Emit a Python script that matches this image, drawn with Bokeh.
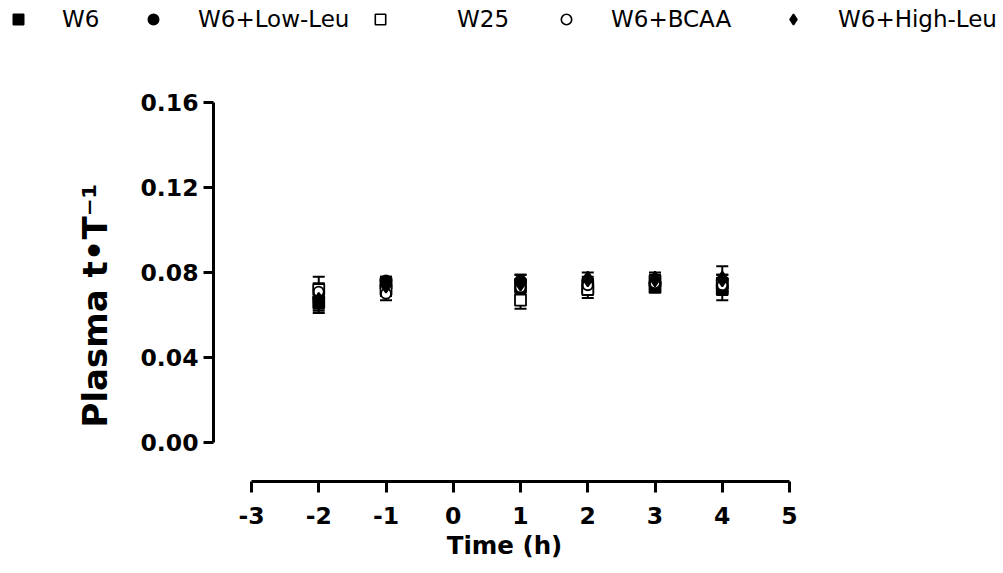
from bokeh.plotting import figure
from bokeh.models import (ColumnDataSource, Whisker, TeeHead, Range1d, FixedTicker,
                          Legend, LegendItem, Title, PrintfTickFormatter)
from bokeh.embed import file_html
from bokeh.resources import INLINE

# ---- data ----
times = [-2, -1, 1, 2, 3, 4]
series_names = ["W6", "W6+Low-Leu", "W25", "W6+BCAA", "W6+High-Leu"]
w6 = [0.066, 0.075, 0.074, 0.073, 0.073, 0.072]
w6_err = [0.005, 0.003, 0.003, 0.003, 0.002, 0.005]
w6_low_leu = [0.068, 0.076, 0.076, 0.076, 0.075, 0.076]
w6_low_leu_err = [0.005, 0.002, 0.003, 0.002, 0.003, 0.003]
w25 = [0.072, 0.072, 0.067, 0.072, 0.076, 0.075]
w25_err = [0.006, 0.003, 0.004, 0.004, 0.003, 0.004]
w6_bcaa = [0.071, 0.070, 0.073, 0.074, 0.075, 0.074]
w6_bcaa_err = [0.004, 0.003, 0.003, 0.003, 0.003, 0.003]
w6_high_leu = [0.067, 0.074, 0.075, 0.077, 0.077, 0.077]
w6_high_leu_err = [0.005, 0.003, 0.004, 0.003, 0.003, 0.006]

x_ticks = [-3, -2, -1, 0, 1, 2, 3, 4, 5]
x_tick_labels = ["-3", "-2", "-1", "0", "1", "2", "3", "4", "5"]
y_ticks = [0.00, 0.04, 0.08, 0.12, 0.16]

FONT = "DejaVu Sans"
LEG_H = 40

p = figure(width=1003, height=573 - LEG_H, output_backend="svg", toolbar_location=None,
           title=None,
           x_range=Range1d(-3.565, 5.089), y_range=Range1d(-0.01835, 0.1633),
           min_border_left=213, min_border_right=208, min_border_top=95 - LEG_H,
           min_border_bottom=92)
p.outline_line_color = None
p.xgrid.visible = False
p.ygrid.visible = False

for ax in (p.xaxis[0], p.yaxis[0]):
    ax.axis_line_width = 3
    ax.axis_line_color = "black"
    ax.major_tick_line_width = 3
    ax.major_tick_line_color = "black"
    ax.major_tick_in = 0
    ax.minor_tick_line_color = None
    ax.major_label_text_font = FONT
    ax.major_label_text_font_style = "bold"
    ax.major_label_text_font_size = "23.5px"
    ax.major_label_text_color = "black"

p.xaxis.bounds = (-3, 5)
p.xaxis.ticker = FixedTicker(ticks=x_ticks)
p.xaxis.major_label_overrides = {t: s for t, s in zip(x_ticks, x_tick_labels)}
p.xaxis.major_tick_out = 11
p.xaxis.major_label_standoff = 14
p.xaxis.axis_label = "Time (h)"
p.xaxis.axis_label_text_font = FONT
p.xaxis.axis_label_text_font_style = "bold"
p.xaxis.axis_label_text_font_size = "24.5px"
p.xaxis.axis_label_text_color = "black"
p.xaxis.axis_label_standoff = 4

p.yaxis.bounds = (0, 0.16)
p.yaxis.ticker = FixedTicker(ticks=y_ticks)
p.yaxis.formatter = PrintfTickFormatter(format="%.2f")
p.yaxis.major_tick_out = 10
p.yaxis.major_label_standoff = 5

ylab = Title(text="Plasma t\u2022T\u207b\u00b9", align="left", offset=54,
             standoff=46, text_font=FONT, text_font_style="bold",
             text_font_size="34px", text_color="black")
p.add_layout(ylab, "left")

styles = [("square", "black", 11), ("circle", "black", 11), ("square", "white", 11),
          ("circle", "white", 10), ("diamond", "black", 15)]
series = [(w6, w6_err), (w6_low_leu, w6_low_leu_err), (w25, w25_err),
          (w6_bcaa, w6_bcaa_err), (w6_high_leu, w6_high_leu_err)]

for (vals, errs), (marker, fill, size) in zip(series, styles):
    src = ColumnDataSource(dict(
        x=times, y=vals,
        upper=[v + e for v, e in zip(vals, errs)],
        lower=[v - e for v, e in zip(vals, errs)],
    ))
    wh = Whisker(base="x", upper="upper", lower="lower", source=src,
                 line_color="black", line_width=2, level="underlay",
                 upper_head=TeeHead(size=12, line_width=2, line_color="black"),
                 lower_head=TeeHead(size=12, line_width=2, line_color="black"))
    p.add_layout(wh)
    p.scatter("x", "y", source=src, marker=marker, size=size,
              fill_color=fill, line_color="black", line_width=1.8)

# ---- legend strip on top (its own small canvas) ----
pl = figure(width=1003, height=LEG_H, output_backend="svg", toolbar_location=None,
            title=None, x_axis_type=None, y_axis_type=None,
            min_border_left=0, min_border_right=0, min_border_top=0,
            min_border_bottom=0, x_range=Range1d(100, 101), y_range=Range1d(100, 101))
pl.outline_line_color = None
pl.xgrid.visible = False
pl.ygrid.visible = False

GW = 26
marker_centers = [18, 153, 380, 566, 793]
text_starts = [62, 198, 457, 611, 838]
for name, (vals, errs), (marker, fill, size), cx, tx in zip(
        series_names, series, styles, marker_centers, text_starts):
    # the series' first point lies outside this strip's ranges, so only the key shows
    r = pl.scatter(x=times[:1], y=vals[:1], marker=marker, size=size,
                   fill_color=fill, line_color="black", line_width=1.6)
    lg = Legend(items=[LegendItem(label=name, renderers=[r])],
                location=(cx - GW / 2, 7), orientation="horizontal",
                glyph_width=GW, glyph_height=GW, label_standoff=int(tx - cx - GW / 2),
                padding=0, margin=0, spacing=0,
                border_line_color=None, background_fill_alpha=0,
                label_text_font=FONT, label_text_font_size="23px",
                label_text_color="black", label_height=28)
    pl.add_layout(lg, "center")

open("out.html", "w").write(file_html([pl, p], INLINE))
